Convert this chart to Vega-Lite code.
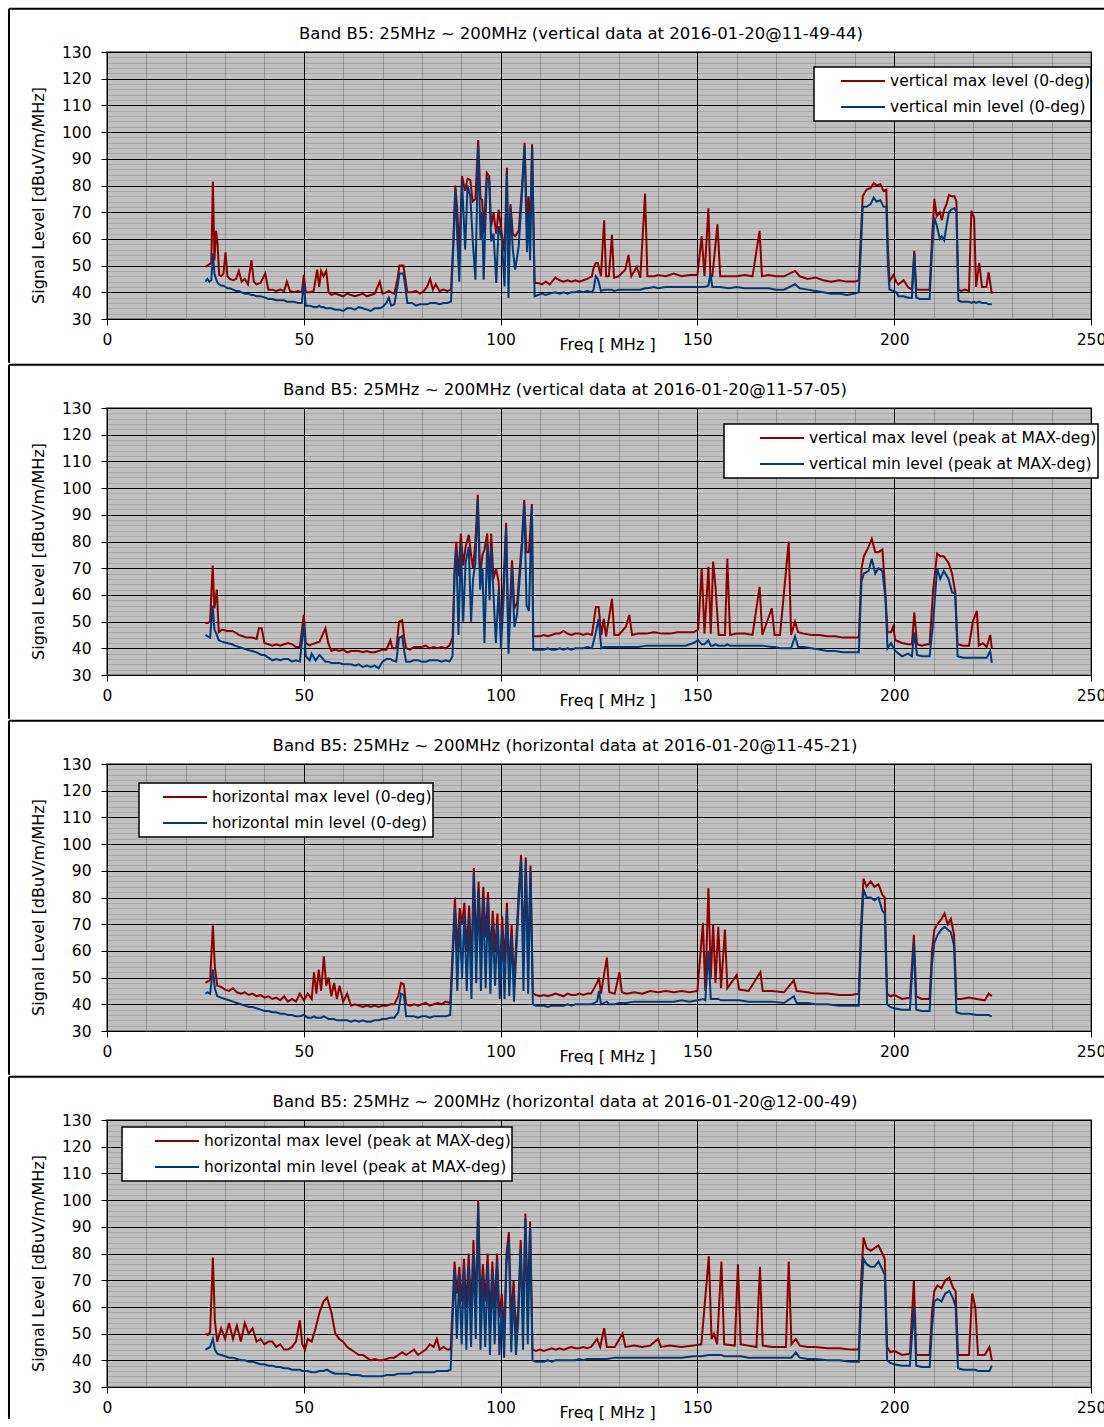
{
  "$schema": "https://vega.github.io/schema/vega-lite/v6.json",
  "padding": {"left": 6, "top": 6, "right": 0, "bottom": 0},
  "background": "white",
  "spacing": -3,
  "config": {
    "font": "DejaVu Sans",
    "view": {"fill": "#c0c0c0", "stroke": "#808080", "strokeWidth": 2},
    "concat": {"spacing": -3},
    "title": {"fontSize": 16.5, "fontWeight": "normal", "color": "black", "offset": 10, "dy": 45},
    "axis": {"labelColor": "black", "labelFontSize": 15.5, "titleFontSize": 16, "titleFontWeight": "normal", "titleColor": "black", "domainColor": "black", "tickColor": "black", "tickSize": 6, "labelOverlap": false, "labelFlush": false},
    "legend": {"orient": "none", "title": null, "symbolType": "stroke", "symbolSize": 1936, "symbolStrokeWidth": 2, "labelFontSize": 15.5, "labelLimit": 500, "labelColor": "black", "strokeColor": "black", "fillColor": "white", "padding": 1, "labelOffset": 4, "clipHeight": 26, "rowPadding": 0, "strokeWidth": 1.5}
  },
  "resolve": {"scale": {"color": "independent"}, "legend": {"color": "independent"}},
  "datasets": {
    "d": [
      {"p":1,"f":25.0,"max":49.5,"min":44},{"p":1,"f":25.5,"max":50,"min":45},{"p":1,"f":26.0,"max":50.5,"min":44},{"p":1,"f":26.5,"max":51,"min":44.5},{"p":1,"f":26.9,"max":81.5,"min":54.5},{"p":1,"f":27.3,"max":52,"min":47},{"p":1,"f":27.7,"max":63,"min":45},{"p":1,"f":28.1,"max":58,"min":43.5},{"p":1,"f":28.5,"max":46.5,"min":43},{"p":1,"f":29.0,"max":46,"min":42.5},{"p":1,"f":29.6,"max":47,"min":42.5},{"p":1,"f":30.1,"max":55,"min":42},{"p":1,"f":30.6,"max":46,"min":41.5},{"p":1,"f":31.2,"max":45,"min":41.5},{"p":1,"f":32.0,"max":44.5,"min":41},{"p":1,"f":32.8,"max":45,"min":40.5},{"p":1,"f":33.5,"max":48,"min":40.5},{"p":1,"f":34.2,"max":44,"min":40},{"p":1,"f":35.0,"max":45,"min":39.5},{"p":1,"f":35.8,"max":43,"min":39.5},{"p":1,"f":36.7,"max":52,"min":39},{"p":1,"f":37.3,"max":44,"min":39},{"p":1,"f":38.0,"max":43,"min":38.5},{"p":1,"f":39.0,"max":43.5,"min":38.5},{"p":1,"f":40.2,"max":47,"min":38},{"p":1,"f":41.0,"max":41,"min":37.5},{"p":1,"f":42.0,"max":41,"min":37.5},{"p":1,"f":43.0,"max":40.5,"min":37},{"p":1,"f":44.0,"max":41,"min":37},{"p":1,"f":45.0,"max":40.5,"min":37},{"p":1,"f":45.7,"max":44,"min":36.5},{"p":1,"f":46.5,"max":40.5,"min":36.5},{"p":1,"f":47.5,"max":40,"min":36.5},{"p":1,"f":48.5,"max":40.5,"min":36},{"p":1,"f":49.5,"max":40,"min":36},{"p":1,"f":50.0,"max":46.5,"min":43.5},{"p":1,"f":50.5,"max":40,"min":35},{"p":1,"f":51.5,"max":40,"min":35},{"p":1,"f":52.5,"max":40.5,"min":34.5},{"p":1,"f":53.4,"max":48.5,"min":34.5},{"p":1,"f":53.9,"max":42,"min":35},{"p":1,"f":54.4,"max":48,"min":34.5},{"p":1,"f":55.0,"max":46,"min":34.5},{"p":1,"f":55.7,"max":48,"min":34},{"p":1,"f":56.3,"max":40,"min":34},{"p":1,"f":57.0,"max":39,"min":34},{"p":1,"f":58.0,"max":39.5,"min":33.5},{"p":1,"f":59.0,"max":39,"min":33.5},{"p":1,"f":60.0,"max":38.5,"min":33},{"p":1,"f":61.0,"max":39.5,"min":34},{"p":1,"f":62.0,"max":39,"min":34},{"p":1,"f":63.0,"max":38.5,"min":33.5},{"p":1,"f":64.0,"max":39,"min":34.5},{"p":1,"f":65.0,"max":39.5,"min":34},{"p":1,"f":66.0,"max":38.5,"min":33.5},{"p":1,"f":67.0,"max":39,"min":33},{"p":1,"f":68.0,"max":39.5,"min":34},{"p":1,"f":69.3,"max":44,"min":34},{"p":1,"f":70.0,"max":39.5,"min":34.5},{"p":1,"f":71.0,"max":40,"min":36},{"p":1,"f":71.6,"max":40.5,"min":38},{"p":1,"f":72.2,"max":40,"min":35},{"p":1,"f":73.0,"max":39.5,"min":35.5},{"p":1,"f":73.8,"max":45,"min":42},{"p":1,"f":74.3,"max":50,"min":47},{"p":1,"f":75.3,"max":50,"min":47},{"p":1,"f":75.8,"max":45,"min":42},{"p":1,"f":76.3,"max":40,"min":36},{"p":1,"f":77.5,"max":40,"min":36},{"p":1,"f":78.5,"max":40.5,"min":35},{"p":1,"f":79.5,"max":39.5,"min":35.5},{"p":1,"f":80.5,"max":40.5,"min":35.5},{"p":1,"f":81.3,"max":42,"min":35.5},{"p":1,"f":82.1,"max":45,"min":36},{"p":1,"f":82.8,"max":41,"min":36},{"p":1,"f":83.5,"max":43,"min":36},{"p":1,"f":84.5,"max":40.5,"min":35.5},{"p":1,"f":85.5,"max":41,"min":36},{"p":1,"f":86.5,"max":40.5,"min":36},{"p":1,"f":87.4,"max":41,"min":36.5},{"p":1,"f":88.0,"max":60,"min":57},{"p":1,"f":88.5,"max":80,"min":78.5},{"p":1,"f":89.0,"max":71,"min":60},{"p":1,"f":89.5,"max":55,"min":44},{"p":1,"f":90.2,"max":83.5,"min":81.5},{"p":1,"f":91.0,"max":78,"min":56},{"p":1,"f":91.6,"max":82.5,"min":80},{"p":1,"f":92.3,"max":82,"min":76},{"p":1,"f":92.9,"max":74,"min":60},{"p":1,"f":93.6,"max":75,"min":44.7},{"p":1,"f":94.3,"max":97,"min":95},{"p":1,"f":94.9,"max":75,"min":59.7},{"p":1,"f":95.3,"max":74.7,"min":70},{"p":1,"f":95.7,"max":62,"min":44.7},{"p":1,"f":96.5,"max":84.7,"min":82.7},{"p":1,"f":97.1,"max":83.5,"min":82},{"p":1,"f":97.6,"max":64.7,"min":59},{"p":1,"f":98.2,"max":69.7,"min":62},{"p":1,"f":98.9,"max":62,"min":43.5},{"p":1,"f":99.5,"max":71,"min":64.7},{"p":1,"f":100.3,"max":62,"min":60},{"p":1,"f":101.0,"max":55,"min":42.2},{"p":1,"f":101.6,"max":86.6,"min":84.7},{"p":1,"f":102.0,"max":50,"min":37.9},{"p":1,"f":102.5,"max":73,"min":72.2},{"p":1,"f":103.1,"max":62,"min":56},{"p":1,"f":103.7,"max":61,"min":48.5},{"p":1,"f":104.6,"max":63,"min":57.2},{"p":1,"f":105.4,"max":78.5,"min":76},{"p":1,"f":106.1,"max":96,"min":94.7},{"p":1,"f":106.7,"max":65,"min":55},{"p":1,"f":107.1,"max":76,"min":70},{"p":1,"f":107.5,"max":62,"min":52},{"p":1,"f":108.0,"max":95.4,"min":94},{"p":1,"f":108.65,"max":43.5,"min":38.5},{"p":1,"f":109.5,"max":43.5,"min":39},{"p":1,"f":110.5,"max":43,"min":39.5},{"p":1,"f":111.5,"max":44,"min":39},{"p":1,"f":112.5,"max":43,"min":39.5},{"p":1,"f":113.9,"max":45.5,"min":40},{"p":1,"f":115,"max":44.5,"min":39.5},{"p":1,"f":116,"max":44,"min":40},{"p":1,"f":117,"max":44.5,"min":39.5},{"p":1,"f":118,"max":44,"min":40},{"p":1,"f":119,"max":44.5,"min":40},{"p":1,"f":120,"max":44,"min":40.5},{"p":1,"f":121,"max":44.5,"min":40},{"p":1,"f":122,"max":45,"min":40.5},{"p":1,"f":123.2,"max":46,"min":40},{"p":1,"f":123.6,"max":49,"min":41},{"p":1,"f":124.2,"max":51,"min":46},{"p":1,"f":124.7,"max":51,"min":45},{"p":1,"f":125.5,"max":46,"min":40.5},{"p":1,"f":126.3,"max":67,"min":41},{"p":1,"f":126.8,"max":46,"min":41},{"p":1,"f":127.5,"max":46,"min":41},{"p":1,"f":128.3,"max":61.5,"min":41},{"p":1,"f":128.8,"max":45.5,"min":40.5},{"p":1,"f":130,"max":46,"min":41},{"p":1,"f":131.7,"max":48.5,"min":41},{"p":1,"f":132.5,"max":54,"min":41},{"p":1,"f":133.2,"max":46,"min":41},{"p":1,"f":134.6,"max":49.5,"min":41},{"p":1,"f":135.5,"max":45.5,"min":41},{"p":1,"f":136.7,"max":77,"min":41.5},{"p":1,"f":137.3,"max":46,"min":41.5},{"p":1,"f":139,"max":46,"min":42},{"p":1,"f":140,"max":46.5,"min":41.5},{"p":1,"f":142,"max":46,"min":42},{"p":1,"f":144,"max":47,"min":42},{"p":1,"f":146,"max":46,"min":42},{"p":1,"f":148,"max":46.5,"min":42},{"p":1,"f":150,"max":46.5,"min":42},{"p":1,"f":151.1,"max":61,"min":42},{"p":1,"f":151.8,"max":46,"min":42},{"p":1,"f":152.8,"max":71.5,"min":42.5},{"p":1,"f":153.3,"max":46,"min":47},{"p":1,"f":153.8,"max":46,"min":42},{"p":1,"f":155.1,"max":65.5,"min":42},{"p":1,"f":155.8,"max":46,"min":42},{"p":1,"f":158,"max":46,"min":41.5},{"p":1,"f":160,"max":46,"min":42},{"p":1,"f":162,"max":46.5,"min":41.5},{"p":1,"f":164,"max":46,"min":41.5},{"p":1,"f":165.8,"max":63,"min":41.5},{"p":1,"f":166.4,"max":46,"min":41.5},{"p":1,"f":168,"max":46.5,"min":41.5},{"p":1,"f":170,"max":46,"min":41},{"p":1,"f":172,"max":46,"min":41},{"p":1,"f":174.8,"max":48,"min":43},{"p":1,"f":176,"max":46,"min":41.5},{"p":1,"f":178,"max":45,"min":41},{"p":1,"f":180,"max":45.5,"min":40.5},{"p":1,"f":182,"max":44.5,"min":40},{"p":1,"f":184,"max":44,"min":39.5},{"p":1,"f":186,"max":44.5,"min":39.5},{"p":1,"f":188,"max":44,"min":39},{"p":1,"f":190,"max":44,"min":39.5},{"p":1,"f":191.0,"max":44.5,"min":40},{"p":1,"f":191.5,"max":60,"min":55},{"p":1,"f":192.0,"max":76,"min":72},{"p":1,"f":193,"max":78.5,"min":72},{"p":1,"f":194,"max":79,"min":73},{"p":1,"f":194.8,"max":81,"min":75.5},{"p":1,"f":195.5,"max":80,"min":74},{"p":1,"f":196.5,"max":80.5,"min":74.5},{"p":1,"f":197.3,"max":78,"min":72},{"p":1,"f":198.0,"max":78.5,"min":72},{"p":1,"f":198.4,"max":57,"min":50},{"p":1,"f":198.8,"max":44,"min":41},{"p":1,"f":199.8,"max":46.5,"min":40.5},{"p":1,"f":200.5,"max":44,"min":40},{"p":1,"f":201.1,"max":43,"min":38.5},{"p":1,"f":202.4,"max":44.5,"min":38.5},{"p":1,"f":203.5,"max":42,"min":38},{"p":1,"f":204.5,"max":41,"min":38},{"p":1,"f":205.1,"max":55.5,"min":54.5},{"p":1,"f":205.6,"max":41,"min":38},{"p":1,"f":206.5,"max":41,"min":37.5},{"p":1,"f":208,"max":41,"min":37.5},{"p":1,"f":209.0,"max":41,"min":37.5},{"p":1,"f":209.6,"max":60,"min":55},{"p":1,"f":210.2,"max":75,"min":68},{"p":1,"f":210.8,"max":68.5,"min":65},{"p":1,"f":211.6,"max":70,"min":60},{"p":1,"f":212.1,"max":67,"min":61},{"p":1,"f":212.7,"max":71,"min":59.5},{"p":1,"f":213.3,"max":73,"min":65},{"p":1,"f":213.9,"max":76.5,"min":70},{"p":1,"f":214.5,"max":76,"min":71},{"p":1,"f":215.3,"max":76,"min":71.5},{"p":1,"f":215.8,"max":74,"min":70},{"p":1,"f":216.3,"max":41,"min":37},{"p":1,"f":217,"max":40.5,"min":36.5},{"p":1,"f":218,"max":41,"min":36.5},{"p":1,"f":219.0,"max":40.5,"min":36.5},{"p":1,"f":219.6,"max":70.5,"min":36},{"p":1,"f":220.3,"max":68,"min":36.5},{"p":1,"f":220.8,"max":42,"min":36},{"p":1,"f":221.6,"max":51,"min":36.5},{"p":1,"f":222.3,"max":42,"min":36},{"p":1,"f":223.4,"max":42,"min":36},{"p":1,"f":224.0,"max":47.5,"min":35.5},{"p":1,"f":224.8,"max":39.5,"min":35.5},

      {"p":2,"f":25.0,"max":49.5,"min":45},{"p":2,"f":25.6,"max":49.5,"min":44.5},{"p":2,"f":26.2,"max":50,"min":44},{"p":2,"f":26.85,"max":71,"min":56},{"p":2,"f":27.3,"max":55,"min":47},{"p":2,"f":27.9,"max":62,"min":45},{"p":2,"f":28.4,"max":46,"min":43},{"p":2,"f":29.2,"max":47,"min":42.5},{"p":2,"f":30.5,"max":46.5,"min":42},{"p":2,"f":31.8,"max":46.5,"min":41.5},{"p":2,"f":32.5,"max":46,"min":41},{"p":2,"f":33.5,"max":45,"min":40.5},{"p":2,"f":34.5,"max":44.5,"min":40},{"p":2,"f":35.5,"max":44,"min":39.5},{"p":2,"f":36.8,"max":44,"min":39},{"p":2,"f":38.0,"max":43.5,"min":38.5},{"p":2,"f":38.6,"max":47.5,"min":38},{"p":2,"f":39.3,"max":47.5,"min":37.5},{"p":2,"f":40.0,"max":42,"min":37.5},{"p":2,"f":41.0,"max":41.5,"min":36.5},{"p":2,"f":42.0,"max":41,"min":35.5},{"p":2,"f":43.0,"max":41.5,"min":36},{"p":2,"f":44.0,"max":41,"min":35.5},{"p":2,"f":45.0,"max":41.5,"min":36},{"p":2,"f":46.0,"max":42,"min":36},{"p":2,"f":47.0,"max":41.5,"min":35},{"p":2,"f":48.0,"max":40.5,"min":35.5},{"p":2,"f":49.0,"max":40.5,"min":35},{"p":2,"f":50.0,"max":52.5,"min":49.5},{"p":2,"f":50.5,"max":42,"min":37},{"p":2,"f":51.5,"max":41,"min":35.5},{"p":2,"f":52.0,"max":41.5,"min":38},{"p":2,"f":53.0,"max":42,"min":35.5},{"p":2,"f":54.0,"max":42.5,"min":37.5},{"p":2,"f":55.5,"max":47.5,"min":35},{"p":2,"f":56.2,"max":42,"min":35},{"p":2,"f":57.0,"max":39,"min":34.5},{"p":2,"f":58.0,"max":39.5,"min":34.5},{"p":2,"f":59.0,"max":39,"min":34.5},{"p":2,"f":60.0,"max":39.5,"min":34},{"p":2,"f":61.0,"max":38.5,"min":34},{"p":2,"f":62.0,"max":39,"min":34},{"p":2,"f":63.0,"max":39,"min":33.5},{"p":2,"f":64.0,"max":39,"min":34},{"p":2,"f":65.0,"max":38.5,"min":33},{"p":2,"f":66.0,"max":39,"min":33.5},{"p":2,"f":67.0,"max":38.5,"min":33},{"p":2,"f":68.0,"max":38.5,"min":33.5},{"p":2,"f":69.0,"max":39,"min":32.5},{"p":2,"f":70.0,"max":39.5,"min":35},{"p":2,"f":71.0,"max":39.5,"min":36},{"p":2,"f":72.0,"max":43,"min":36},{"p":2,"f":72.5,"max":40,"min":35.5},{"p":2,"f":73.5,"max":40,"min":35},{"p":2,"f":74.2,"max":50,"min":44},{"p":2,"f":75.0,"max":50.5,"min":44.5},{"p":2,"f":75.5,"max":44,"min":39},{"p":2,"f":76.0,"max":40,"min":35},{"p":2,"f":77.0,"max":39.5,"min":35},{"p":2,"f":78.0,"max":40.5,"min":35.5},{"p":2,"f":79.0,"max":40.5,"min":35.5},{"p":2,"f":80.0,"max":40.5,"min":35},{"p":2,"f":81.0,"max":41,"min":35},{"p":2,"f":82.0,"max":40,"min":35.5},{"p":2,"f":83.0,"max":40.5,"min":35.5},{"p":2,"f":84.0,"max":40,"min":35.5},{"p":2,"f":85.0,"max":40.5,"min":35},{"p":2,"f":86.0,"max":40,"min":35.5},{"p":2,"f":87.0,"max":41,"min":35},{"p":2,"f":87.8,"max":44,"min":37},{"p":2,"f":88.3,"max":70,"min":67},{"p":2,"f":88.75,"max":80,"min":77},{"p":2,"f":89.3,"max":67,"min":45},{"p":2,"f":89.9,"max":83,"min":79},{"p":2,"f":90.5,"max":71,"min":50},{"p":2,"f":91.1,"max":78,"min":72},{"p":2,"f":91.9,"max":82.5,"min":78},{"p":2,"f":92.5,"max":75,"min":50},{"p":2,"f":93.0,"max":70,"min":66},{"p":2,"f":93.6,"max":80,"min":72},{"p":2,"f":94.2,"max":97.5,"min":95.5},{"p":2,"f":94.8,"max":67,"min":62},{"p":2,"f":95.4,"max":75,"min":70},{"p":2,"f":95.9,"max":77,"min":42},{"p":2,"f":96.6,"max":83,"min":79},{"p":2,"f":97.2,"max":63,"min":58},{"p":2,"f":97.6,"max":83,"min":78},{"p":2,"f":98.2,"max":66,"min":60},{"p":2,"f":98.8,"max":70,"min":42},{"p":2,"f":99.5,"max":65,"min":62},{"p":2,"f":100.1,"max":46,"min":40},{"p":2,"f":100.8,"max":66,"min":60},{"p":2,"f":101.4,"max":87,"min":85},{"p":2,"f":102.0,"max":43,"min":38},{"p":2,"f":102.9,"max":73,"min":70},{"p":2,"f":103.5,"max":55,"min":48},{"p":2,"f":104.2,"max":57,"min":53},{"p":2,"f":105.4,"max":80,"min":77},{"p":2,"f":106.0,"max":95.5,"min":94},{"p":2,"f":106.6,"max":76,"min":56},{"p":2,"f":107.2,"max":76,"min":54},{"p":2,"f":107.95,"max":94,"min":93},{"p":2,"f":108.3,"max":44.5,"min":39.5},{"p":2,"f":108.9,"max":44.5,"min":39.5},{"p":2,"f":110,"max":44.5,"min":39.5},{"p":2,"f":111,"max":45,"min":39.5},{"p":2,"f":112,"max":44.5,"min":40},{"p":2,"f":113,"max":45,"min":39.5},{"p":2,"f":114,"max":45.5,"min":39.5},{"p":2,"f":115,"max":45.5,"min":40},{"p":2,"f":116,"max":46.5,"min":39.5},{"p":2,"f":117,"max":45.5,"min":40},{"p":2,"f":118,"max":45,"min":39.5},{"p":2,"f":119,"max":45.5,"min":40},{"p":2,"f":120,"max":45.5,"min":40},{"p":2,"f":121,"max":45,"min":40},{"p":2,"f":122,"max":45.5,"min":40.5},{"p":2,"f":123.2,"max":45,"min":40},{"p":2,"f":124.2,"max":55.5,"min":46},{"p":2,"f":124.9,"max":55.5,"min":51},{"p":2,"f":125.6,"max":45,"min":40},{"p":2,"f":126.2,"max":51,"min":40.5},{"p":2,"f":126.8,"max":44.5,"min":40.5},{"p":2,"f":128.3,"max":58.5,"min":40.5},{"p":2,"f":128.9,"max":45,"min":40.5},{"p":2,"f":130,"max":45,"min":40.5},{"p":2,"f":131.8,"max":48,"min":40.5},{"p":2,"f":132.7,"max":52.5,"min":40.5},{"p":2,"f":133.4,"max":45,"min":40.5},{"p":2,"f":135,"max":45.5,"min":40.5},{"p":2,"f":137,"max":45.5,"min":41},{"p":2,"f":139,"max":46,"min":41},{"p":2,"f":141,"max":45.5,"min":41},{"p":2,"f":143,"max":45.5,"min":41},{"p":2,"f":145,"max":46,"min":41},{"p":2,"f":147,"max":46,"min":41},{"p":2,"f":149,"max":46,"min":42},{"p":2,"f":150.2,"max":47,"min":43},{"p":2,"f":151.1,"max":70,"min":41.5},{"p":2,"f":151.8,"max":45.5,"min":41.5},{"p":2,"f":152.8,"max":70.5,"min":43},{"p":2,"f":153.4,"max":45.5,"min":41},{"p":2,"f":154.0,"max":72.5,"min":41},{"p":2,"f":154.6,"max":63,"min":41.5},{"p":2,"f":155.4,"max":45,"min":41},{"p":2,"f":157.0,"max":45,"min":41},{"p":2,"f":157.6,"max":73.5,"min":41.5},{"p":2,"f":158.3,"max":45,"min":41},{"p":2,"f":160,"max":45.5,"min":41},{"p":2,"f":162,"max":45.5,"min":41},{"p":2,"f":164,"max":45,"min":41},{"p":2,"f":165.8,"max":63,"min":41},{"p":2,"f":166.5,"max":45,"min":41},{"p":2,"f":168.9,"max":55,"min":40.5},{"p":2,"f":169.6,"max":45,"min":40.5},{"p":2,"f":171,"max":45,"min":40},{"p":2,"f":173.2,"max":80,"min":40},{"p":2,"f":173.8,"max":45,"min":40},{"p":2,"f":174.8,"max":50,"min":44.5},{"p":2,"f":175.6,"max":46,"min":40.5},{"p":2,"f":177,"max":45.5,"min":40.5},{"p":2,"f":179,"max":45,"min":40},{"p":2,"f":181,"max":45,"min":39.5},{"p":2,"f":183,"max":44.5,"min":39},{"p":2,"f":185,"max":44.5,"min":39},{"p":2,"f":187,"max":44,"min":38.5},{"p":2,"f":189,"max":44,"min":38.5},{"p":2,"f":191.0,"max":44,"min":38.5},{"p":2,"f":191.7,"max":70,"min":65},{"p":2,"f":192.3,"max":74.5,"min":68},{"p":2,"f":193.5,"max":78,"min":69},{"p":2,"f":194.3,"max":81,"min":73.5},{"p":2,"f":195.2,"max":76,"min":68},{"p":2,"f":196.0,"max":76,"min":70},{"p":2,"f":197.0,"max":77,"min":69},{"p":2,"f":197.8,"max":60,"min":58},{"p":2,"f":198.3,"max":46,"min":40},{"p":2,"f":199.2,"max":46,"min":42},{"p":2,"f":199.7,"max":48,"min":40.5},{"p":2,"f":200.3,"max":43,"min":39},{"p":2,"f":202,"max":42,"min":37},{"p":2,"f":203.5,"max":41.5,"min":38},{"p":2,"f":204.5,"max":41.5,"min":37},{"p":2,"f":205.1,"max":53.5,"min":46},{"p":2,"f":205.8,"max":41.5,"min":37.5},{"p":2,"f":207,"max":41,"min":37},{"p":2,"f":208.5,"max":41.5,"min":37},{"p":2,"f":209.0,"max":41.5,"min":37},{"p":2,"f":209.9,"max":62,"min":50},{"p":2,"f":210.9,"max":75.5,"min":70},{"p":2,"f":211.7,"max":74.5,"min":66},{"p":2,"f":212.6,"max":74.5,"min":69},{"p":2,"f":213.8,"max":72,"min":66},{"p":2,"f":214.7,"max":68,"min":61},{"p":2,"f":215.5,"max":61,"min":60.5},{"p":2,"f":216.1,"max":41.5,"min":37},{"p":2,"f":217.5,"max":41,"min":36.5},{"p":2,"f":219,"max":41,"min":36.5},{"p":2,"f":220.0,"max":50,"min":36.5},{"p":2,"f":221.0,"max":54,"min":36.5},{"p":2,"f":221.5,"max":41,"min":36.5},{"p":2,"f":222.5,"max":42,"min":36.5},{"p":2,"f":223.5,"max":40.5,"min":36.5},{"p":2,"f":224.4,"max":45,"min":39},{"p":2,"f":224.8,"max":40,"min":34.5},

      {"p":3,"f":25,"max":48,"min":44},{"p":3,"f":25.5,"max":48.5,"min":44.5},{"p":3,"f":26.2,"max":49,"min":44},{"p":3,"f":26.9,"max":69.5,"min":53},{"p":3,"f":27.4,"max":54,"min":46},{"p":3,"f":28,"max":47,"min":43},{"p":3,"f":29,"max":46.5,"min":42.5},{"p":3,"f":30,"max":45.5,"min":42},{"p":3,"f":31,"max":45,"min":41.5},{"p":3,"f":32,"max":46,"min":41},{"p":3,"f":33,"max":44.5,"min":40.5},{"p":3,"f":34,"max":44,"min":40},{"p":3,"f":35,"max":44.5,"min":39.5},{"p":3,"f":36,"max":43.5,"min":39},{"p":3,"f":37,"max":44,"min":39},{"p":3,"f":38,"max":43,"min":38.5},{"p":3,"f":39,"max":43.5,"min":38},{"p":3,"f":40,"max":42.5,"min":37.5},{"p":3,"f":41,"max":43,"min":37.5},{"p":3,"f":42,"max":42,"min":37},{"p":3,"f":43,"max":42.5,"min":37},{"p":3,"f":44,"max":41.5,"min":36.5},{"p":3,"f":45,"max":43,"min":36.5},{"p":3,"f":46,"max":41,"min":36},{"p":3,"f":47,"max":42,"min":36},{"p":3,"f":48,"max":41,"min":35.5},{"p":3,"f":49,"max":44,"min":35.5},{"p":3,"f":50,"max":41.5,"min":36},{"p":3,"f":51,"max":44,"min":35},{"p":3,"f":52,"max":42,"min":35},{"p":3,"f":52.6,"max":52,"min":35.5},{"p":3,"f":53.2,"max":44,"min":35},{"p":3,"f":53.8,"max":53,"min":35},{"p":3,"f":54.4,"max":45,"min":35},{"p":3,"f":55.1,"max":58,"min":35.5},{"p":3,"f":55.7,"max":47,"min":35},{"p":3,"f":56.3,"max":50,"min":34.5},{"p":3,"f":57,"max":43,"min":34.5},{"p":3,"f":57.7,"max":48,"min":34.5},{"p":3,"f":58.4,"max":42,"min":34},{"p":3,"f":59.1,"max":47,"min":34},{"p":3,"f":60,"max":41,"min":34},{"p":3,"f":61,"max":44,"min":34},{"p":3,"f":62,"max":39.5,"min":33.5},{"p":3,"f":63,"max":40,"min":34},{"p":3,"f":64,"max":39.5,"min":33.5},{"p":3,"f":65,"max":39,"min":34},{"p":3,"f":66,"max":39.5,"min":33.5},{"p":3,"f":67,"max":39,"min":33.5},{"p":3,"f":68,"max":39.5,"min":34},{"p":3,"f":69,"max":39,"min":34},{"p":3,"f":70,"max":39.5,"min":34.5},{"p":3,"f":71,"max":39.5,"min":34.5},{"p":3,"f":72,"max":40,"min":35},{"p":3,"f":73,"max":40,"min":35},{"p":3,"f":74,"max":43,"min":37},{"p":3,"f":74.7,"max":48,"min":44},{"p":3,"f":75.4,"max":47.5,"min":43.5},{"p":3,"f":76,"max":40,"min":35.5},{"p":3,"f":77,"max":39.5,"min":35.5},{"p":3,"f":78,"max":40,"min":35.5},{"p":3,"f":79,"max":39.5,"min":35},{"p":3,"f":80,"max":40,"min":35.5},{"p":3,"f":81,"max":40.5,"min":35.5},{"p":3,"f":82,"max":39.5,"min":35},{"p":3,"f":83,"max":40,"min":35.5},{"p":3,"f":84,"max":40.5,"min":35.5},{"p":3,"f":85,"max":40,"min":35.5},{"p":3,"f":86,"max":41,"min":35.5},{"p":3,"f":87.2,"max":40.5,"min":36},{"p":3,"f":87.8,"max":60,"min":55},{"p":3,"f":88.4,"max":80,"min":76},{"p":3,"f":89,"max":60,"min":45},{"p":3,"f":89.6,"max":76,"min":72},{"p":3,"f":90.2,"max":70,"min":50},{"p":3,"f":90.8,"max":78,"min":74},{"p":3,"f":91.4,"max":60,"min":45},{"p":3,"f":92,"max":77,"min":72},{"p":3,"f":92.6,"max":55,"min":42},{"p":3,"f":93.2,"max":91,"min":89},{"p":3,"f":93.8,"max":60,"min":48},{"p":3,"f":94.4,"max":86,"min":83},{"p":3,"f":95,"max":62,"min":45},{"p":3,"f":95.6,"max":84,"min":80},{"p":3,"f":96.2,"max":65,"min":46},{"p":3,"f":96.8,"max":82,"min":79},{"p":3,"f":97.4,"max":58,"min":44},{"p":3,"f":98,"max":75,"min":70},{"p":3,"f":98.6,"max":60,"min":47},{"p":3,"f":99.2,"max":74,"min":70},{"p":3,"f":99.8,"max":50,"min":42},{"p":3,"f":100.4,"max":73,"min":68},{"p":3,"f":101,"max":55,"min":42},{"p":3,"f":101.6,"max":78,"min":75},{"p":3,"f":102.2,"max":52,"min":43},{"p":3,"f":102.8,"max":70,"min":66},{"p":3,"f":103.4,"max":48,"min":41},{"p":3,"f":104,"max":65,"min":60},{"p":3,"f":104.6,"max":82,"min":78},{"p":3,"f":105.2,"max":96,"min":94},{"p":3,"f":105.8,"max":60,"min":45},{"p":3,"f":106.4,"max":95,"min":93},{"p":3,"f":107,"max":55,"min":44},{"p":3,"f":107.6,"max":92,"min":90},{"p":3,"f":108.2,"max":44,"min":40},{"p":3,"f":109,"max":43.5,"min":39.5},{"p":3,"f":110,"max":43,"min":39.5},{"p":3,"f":111,"max":43.5,"min":39.5},{"p":3,"f":112,"max":43,"min":39},{"p":3,"f":113,"max":43.5,"min":39.5},{"p":3,"f":114,"max":44,"min":39.5},{"p":3,"f":115,"max":43.5,"min":39.5},{"p":3,"f":116,"max":43,"min":39.5},{"p":3,"f":117,"max":44,"min":40},{"p":3,"f":118,"max":43.5,"min":39.5},{"p":3,"f":119,"max":43.5,"min":40},{"p":3,"f":120,"max":44,"min":40},{"p":3,"f":121,"max":43.5,"min":40},{"p":3,"f":122,"max":44,"min":40},{"p":3,"f":123,"max":44,"min":40},{"p":3,"f":124.5,"max":48,"min":41},{"p":3,"f":125,"max":50,"min":45},{"p":3,"f":125.5,"max":44,"min":40},{"p":3,"f":127,"max":57.5,"min":41},{"p":3,"f":127.6,"max":44.5,"min":40},{"p":3,"f":129,"max":44,"min":40},{"p":3,"f":130.2,"max":52,"min":40.5},{"p":3,"f":130.8,"max":44.5,"min":40.5},{"p":3,"f":132,"max":44,"min":40.5},{"p":3,"f":134,"max":44.5,"min":41},{"p":3,"f":136,"max":44,"min":41},{"p":3,"f":138,"max":45,"min":41},{"p":3,"f":140,"max":44.5,"min":41},{"p":3,"f":142,"max":45,"min":41},{"p":3,"f":144,"max":44.5,"min":41},{"p":3,"f":146,"max":45,"min":41.5},{"p":3,"f":148,"max":44.5,"min":41},{"p":3,"f":150,"max":45,"min":41.5},{"p":3,"f":151.4,"max":70.5,"min":42},{"p":3,"f":152,"max":45,"min":41.5},{"p":3,"f":152.8,"max":83.5,"min":60},{"p":3,"f":153.4,"max":50,"min":42},{"p":3,"f":154,"max":70,"min":42},{"p":3,"f":154.6,"max":48,"min":42},{"p":3,"f":155.3,"max":69,"min":42},{"p":3,"f":156,"max":46,"min":41.5},{"p":3,"f":157,"max":68,"min":41.5},{"p":3,"f":157.6,"max":46,"min":41.5},{"p":3,"f":160,"max":51,"min":41.5},{"p":3,"f":160.6,"max":45.5,"min":41.5},{"p":3,"f":163,"max":45,"min":41},{"p":3,"f":166,"max":52,"min":41},{"p":3,"f":166.6,"max":45,"min":41},{"p":3,"f":169,"max":45,"min":41},{"p":3,"f":172,"max":44.5,"min":40.5},{"p":3,"f":174.5,"max":49,"min":43},{"p":3,"f":175.2,"max":45,"min":40.5},{"p":3,"f":178,"max":44.5,"min":40.5},{"p":3,"f":180,"max":44,"min":40},{"p":3,"f":183,"max":44,"min":40},{"p":3,"f":186,"max":43.5,"min":39.5},{"p":3,"f":189,"max":43.5,"min":39.5},{"p":3,"f":191,"max":44,"min":39.5},{"p":3,"f":191.6,"max":70,"min":65},{"p":3,"f":192.2,"max":87,"min":83},{"p":3,"f":193,"max":84,"min":80},{"p":3,"f":194,"max":86,"min":80},{"p":3,"f":195,"max":84,"min":79},{"p":3,"f":196,"max":85,"min":80},{"p":3,"f":197,"max":81,"min":75},{"p":3,"f":197.6,"max":80,"min":74},{"p":3,"f":198.2,"max":44,"min":40},{"p":3,"f":199,"max":43,"min":39},{"p":3,"f":200,"max":43.5,"min":38.5},{"p":3,"f":202,"max":42,"min":38},{"p":3,"f":204,"max":42.5,"min":38},{"p":3,"f":205,"max":66,"min":63},{"p":3,"f":205.6,"max":43,"min":38},{"p":3,"f":207,"max":42,"min":37.5},{"p":3,"f":209,"max":42,"min":37.5},{"p":3,"f":209.6,"max":60,"min":55},{"p":3,"f":210.2,"max":68,"min":63},{"p":3,"f":211,"max":70,"min":66},{"p":3,"f":212,"max":72,"min":68},{"p":3,"f":212.8,"max":74,"min":69},{"p":3,"f":213.6,"max":70,"min":68},{"p":3,"f":214.4,"max":72,"min":67},{"p":3,"f":215.2,"max":66,"min":62},{"p":3,"f":215.8,"max":42,"min":37},{"p":3,"f":217,"max":42,"min":36.5},{"p":3,"f":219,"max":42.5,"min":36.5},{"p":3,"f":221,"max":42,"min":36},{"p":3,"f":223,"max":41.5,"min":36},{"p":3,"f":224,"max":44,"min":36},{"p":3,"f":224.8,"max":43,"min":35.5},

      {"p":4,"f":25,"max":50,"min":44},{"p":4,"f":25.6,"max":49.5,"min":44.5},{"p":4,"f":26.2,"max":50.5,"min":45},{"p":4,"f":26.9,"max":78.5,"min":48},{"p":4,"f":27.4,"max":55,"min":44},{"p":4,"f":28,"max":47,"min":42.5},{"p":4,"f":29,"max":52,"min":42},{"p":4,"f":30,"max":48,"min":41.5},{"p":4,"f":31,"max":54,"min":41},{"p":4,"f":32,"max":48,"min":41},{"p":4,"f":33,"max":53,"min":40.5},{"p":4,"f":34,"max":47,"min":40},{"p":4,"f":35,"max":54,"min":40},{"p":4,"f":36,"max":50,"min":39.5},{"p":4,"f":37,"max":52,"min":39.5},{"p":4,"f":38,"max":47,"min":39},{"p":4,"f":39,"max":48,"min":38.5},{"p":4,"f":40,"max":46,"min":38.5},{"p":4,"f":41,"max":47,"min":38},{"p":4,"f":42,"max":47,"min":38},{"p":4,"f":43,"max":45,"min":37.5},{"p":4,"f":44,"max":46,"min":37.5},{"p":4,"f":45,"max":44,"min":37},{"p":4,"f":46,"max":44,"min":37},{"p":4,"f":47,"max":45,"min":36.5},{"p":4,"f":48,"max":47,"min":36.5},{"p":4,"f":49,"max":55,"min":36.5},{"p":4,"f":49.6,"max":46,"min":36},{"p":4,"f":50.3,"max":44,"min":36},{"p":4,"f":51,"max":48,"min":36},{"p":4,"f":52,"max":47,"min":35.5},{"p":4,"f":53,"max":52,"min":35.5},{"p":4,"f":54,"max":58,"min":36},{"p":4,"f":55,"max":62,"min":36},{"p":4,"f":55.9,"max":63.5,"min":36.5},{"p":4,"f":57,"max":58,"min":35.5},{"p":4,"f":58,"max":50,"min":35},{"p":4,"f":59,"max":48,"min":35},{"p":4,"f":60,"max":47,"min":35},{"p":4,"f":61,"max":45,"min":35},{"p":4,"f":62,"max":44,"min":34.5},{"p":4,"f":63,"max":43,"min":34.5},{"p":4,"f":64,"max":42,"min":34.5},{"p":4,"f":65,"max":42,"min":34},{"p":4,"f":66,"max":41,"min":34},{"p":4,"f":67,"max":40,"min":34},{"p":4,"f":68,"max":40.5,"min":34},{"p":4,"f":69,"max":40,"min":34},{"p":4,"f":70,"max":40,"min":34},{"p":4,"f":71,"max":40.5,"min":34.5},{"p":4,"f":72,"max":41,"min":34.5},{"p":4,"f":73,"max":41,"min":34.5},{"p":4,"f":74,"max":42,"min":35},{"p":4,"f":75,"max":43,"min":35},{"p":4,"f":76,"max":42,"min":35},{"p":4,"f":77,"max":43,"min":35},{"p":4,"f":78,"max":44,"min":35.5},{"p":4,"f":79,"max":42,"min":35.5},{"p":4,"f":80,"max":43,"min":35.5},{"p":4,"f":81,"max":44,"min":35.5},{"p":4,"f":82,"max":46,"min":35.5},{"p":4,"f":83,"max":45,"min":35.5},{"p":4,"f":83.8,"max":48,"min":36},{"p":4,"f":84.5,"max":44,"min":36},{"p":4,"f":85.5,"max":45,"min":36},{"p":4,"f":86.5,"max":44,"min":36},{"p":4,"f":87.3,"max":44,"min":36.5},{"p":4,"f":87.8,"max":60,"min":55},{"p":4,"f":88.3,"max":77,"min":74},{"p":4,"f":88.9,"max":65,"min":48},{"p":4,"f":89.5,"max":75,"min":72},{"p":4,"f":90.1,"max":62,"min":46},{"p":4,"f":90.7,"max":78,"min":75},{"p":4,"f":91.3,"max":60,"min":44},{"p":4,"f":91.9,"max":80,"min":76},{"p":4,"f":92.5,"max":58,"min":45},{"p":4,"f":93.1,"max":85,"min":80},{"p":4,"f":93.7,"max":60,"min":48},{"p":4,"f":94.3,"max":100,"min":98},{"p":4,"f":94.9,"max":60,"min":44},{"p":4,"f":95.5,"max":76,"min":72},{"p":4,"f":96.1,"max":62,"min":45},{"p":4,"f":96.7,"max":80,"min":76},{"p":4,"f":97.3,"max":55,"min":42},{"p":4,"f":97.9,"max":77,"min":73},{"p":4,"f":98.5,"max":60,"min":46},{"p":4,"f":99.1,"max":80,"min":77},{"p":4,"f":99.7,"max":56,"min":42},{"p":4,"f":100.3,"max":65,"min":60},{"p":4,"f":100.9,"max":50,"min":41},{"p":4,"f":101.5,"max":80,"min":76},{"p":4,"f":102.1,"max":88,"min":85},{"p":4,"f":102.7,"max":55,"min":43},{"p":4,"f":103.3,"max":70,"min":65},{"p":4,"f":103.9,"max":50,"min":42},{"p":4,"f":104.5,"max":60,"min":55},{"p":4,"f":105.1,"max":85,"min":82},{"p":4,"f":105.7,"max":55,"min":44},{"p":4,"f":106.3,"max":95,"min":93},{"p":4,"f":106.9,"max":60,"min":46},{"p":4,"f":107.5,"max":92,"min":90},{"p":4,"f":108.1,"max":44,"min":40},{"p":4,"f":109,"max":43.5,"min":39.5},{"p":4,"f":110,"max":44,"min":39.5},{"p":4,"f":111,"max":43.5,"min":39.5},{"p":4,"f":112,"max":44,"min":40},{"p":4,"f":113,"max":44.5,"min":39.5},{"p":4,"f":114,"max":44,"min":40},{"p":4,"f":115,"max":44.5,"min":40},{"p":4,"f":116,"max":44,"min":40},{"p":4,"f":117,"max":44.5,"min":40},{"p":4,"f":118,"max":45,"min":40},{"p":4,"f":119,"max":44.5,"min":40},{"p":4,"f":120,"max":44.5,"min":40.5},{"p":4,"f":121,"max":45,"min":40},{"p":4,"f":122,"max":44.5,"min":40.5},{"p":4,"f":123,"max":45,"min":40.5},{"p":4,"f":124.5,"max":48,"min":40.5},{"p":4,"f":125.3,"max":45,"min":40.5},{"p":4,"f":126.3,"max":52,"min":40.5},{"p":4,"f":127,"max":45,"min":40.5},{"p":4,"f":129,"max":45,"min":41},{"p":4,"f":131,"max":50,"min":41},{"p":4,"f":131.7,"max":45,"min":41},{"p":4,"f":134,"max":45.5,"min":41},{"p":4,"f":136,"max":45,"min":41},{"p":4,"f":138,"max":45.5,"min":41},{"p":4,"f":140,"max":48,"min":41},{"p":4,"f":140.7,"max":45,"min":41},{"p":4,"f":143,"max":45.5,"min":41},{"p":4,"f":146,"max":45,"min":41},{"p":4,"f":149,"max":45.5,"min":41.5},{"p":4,"f":151,"max":46,"min":41.5},{"p":4,"f":152.9,"max":79,"min":42},{"p":4,"f":153.6,"max":48,"min":42},{"p":4,"f":154.2,"max":50,"min":42},{"p":4,"f":155,"max":46,"min":42},{"p":4,"f":156.1,"max":77,"min":42},{"p":4,"f":156.8,"max":46,"min":41.5},{"p":4,"f":159.5,"max":45.5,"min":41.5},{"p":4,"f":160.3,"max":76,"min":41.5},{"p":4,"f":161,"max":46,"min":41.5},{"p":4,"f":163,"max":45.5,"min":41},{"p":4,"f":165,"max":45,"min":41},{"p":4,"f":165.9,"max":75,"min":41},{"p":4,"f":166.6,"max":45.5,"min":41},{"p":4,"f":169,"max":45,"min":41},{"p":4,"f":172.5,"max":45,"min":41},{"p":4,"f":173.2,"max":77,"min":41},{"p":4,"f":173.9,"max":46,"min":41},{"p":4,"f":175,"max":48,"min":43},{"p":4,"f":176,"max":45.5,"min":41},{"p":4,"f":178,"max":45,"min":40.5},{"p":4,"f":180,"max":45,"min":40.5},{"p":4,"f":183,"max":44.5,"min":40},{"p":4,"f":186,"max":44.5,"min":40},{"p":4,"f":189,"max":44,"min":39.5},{"p":4,"f":191,"max":44,"min":39.5},{"p":4,"f":191.6,"max":70,"min":62},{"p":4,"f":192.2,"max":86,"min":78},{"p":4,"f":193,"max":82,"min":76},{"p":4,"f":194,"max":81,"min":75},{"p":4,"f":195,"max":82,"min":75},{"p":4,"f":196,"max":83,"min":77},{"p":4,"f":197,"max":80,"min":74},{"p":4,"f":197.6,"max":78,"min":72},{"p":4,"f":198.2,"max":45,"min":40},{"p":4,"f":199,"max":43,"min":39},{"p":4,"f":200,"max":43.5,"min":38.5},{"p":4,"f":202,"max":42,"min":38},{"p":4,"f":204,"max":42.5,"min":38},{"p":4,"f":205,"max":70,"min":60},{"p":4,"f":205.6,"max":42,"min":38},{"p":4,"f":207,"max":42,"min":37.5},{"p":4,"f":209,"max":42,"min":37.5},{"p":4,"f":209.6,"max":58,"min":52},{"p":4,"f":210.2,"max":66,"min":62},{"p":4,"f":211,"max":68,"min":63},{"p":4,"f":212,"max":67,"min":62},{"p":4,"f":213,"max":70,"min":65},{"p":4,"f":214,"max":71,"min":66},{"p":4,"f":215,"max":67,"min":63},{"p":4,"f":215.6,"max":66,"min":60},{"p":4,"f":216.2,"max":42,"min":37},{"p":4,"f":217.5,"max":42,"min":36.5},{"p":4,"f":219,"max":42,"min":36.5},{"p":4,"f":219.8,"max":65,"min":36.5},{"p":4,"f":220.6,"max":60,"min":36.5},{"p":4,"f":221.3,"max":42,"min":36},{"p":4,"f":223,"max":42,"min":36},{"p":4,"f":224.2,"max":45,"min":36},{"p":4,"f":224.8,"max":40,"min":38}
    ]
  },
  "vconcat": [
    {
      "width": 984, "height": 267,
      "title": {"text": "Band B5: 25MHz ~ 200MHz  (vertical data at 2016-01-20@11-49-44)", "dx": -18},
      "layer": [
        {
          "data": {"name": "d"},
          "transform": [{"filter": "datum.p == 1"}, {"fold": ["max", "min"], "as": ["s", "v"]}],
          "mark": {"type": "line", "strokeWidth": 2},
          "encoding": {
            "x": {"field": "f", "type": "quantitative", "title": "Freq [ MHz ]", "scale": {"domain": [0, 250], "nice": false, "zero": false},
              "axis": {"values": [0,10,20,30,40,50,60,70,80,90,100,110,120,130,140,150,160,170,180,190,200,210,220,230,240,250], "tickCount": 100, "labelExpr": "datum.value % 50 === 0 ? datum.label : ''", "gridColor": {"condition": {"test": "datum.value % 50 === 0", "value": "#000000"}, "value": "#969696"}, "tickOpacity": {"condition": {"test": "datum.value % 50 === 0", "value": 1}, "value": 0}, "labelPadding": 7, "titleX": 500, "titleY": 17, "titleBaseline": "top"}},
            "y": {"field": "v", "type": "quantitative", "title": "Signal Level [dBuV/m/MHz]", "scale": {"domain": [30, 130], "nice": false, "zero": false},
              "axis": {"values": [30,32,34,36,38,40,42,44,46,48,50,52,54,56,58,60,62,64,66,68,70,72,74,76,78,80,82,84,86,88,90,92,94,96,98,100,102,104,106,108,110,112,114,116,118,120,122,124,126,128,130], "tickCount": 100, "labelExpr": "datum.value % 10 === 0 ? datum.label : ''", "gridColor": "#000000", "gridOpacity": {"condition": {"test": "datum.value % 10 === 0", "value": 1}, "value": 0.12}, "tickOpacity": {"condition": {"test": "datum.value % 10 === 0", "value": 1}, "value": 0}, "labelPadding": 10, "titlePadding": 15, "titleY": 143}},
            "color": {"field": "s", "type": "nominal", "scale": {"domain": ["max", "min"], "range": ["#8e0000", "#003b78"]},
              "legend": {"legendX": 707, "legendY": 15, "symbolOffset": 25, "labelExpr": "datum.value == 'max' ? 'vertical max level (0-deg)' : 'vertical min level (0-deg)'"}}
          }
        },
        {"data": {"values": [{}]}, "mark": {"type": "rule", "clip": false, "color": "black", "strokeWidth": 2}, "encoding": {"x": {"datum": -24.9, "type": "quantitative"}, "y": {"datum": 146.2, "type": "quantitative"}, "x2": {"datum": 253.5}}},
        {"data": {"values": [{}]}, "mark": {"type": "rule", "clip": false, "color": "black", "strokeWidth": 2}, "encoding": {"x": {"datum": -24.9, "type": "quantitative"}, "y": {"datum": 146.2, "type": "quantitative"}, "y2": {"datum": 13.6}}}
      ]
    },
    {
      "width": 984, "height": 267,
      "title": {"text": "Band B5: 25MHz ~ 200MHz (vertical data at 2016-01-20@11-57-05)", "dx": -34},
      "layer": [
        {
          "data": {"name": "d"},
          "transform": [{"filter": "datum.p == 2"}, {"fold": ["max", "min"], "as": ["s", "v"]}],
          "mark": {"type": "line", "strokeWidth": 2},
          "encoding": {
            "x": {"field": "f", "type": "quantitative", "title": "Freq [ MHz ]", "scale": {"domain": [0, 250], "nice": false, "zero": false},
              "axis": {"values": [0,10,20,30,40,50,60,70,80,90,100,110,120,130,140,150,160,170,180,190,200,210,220,230,240,250], "tickCount": 100, "labelExpr": "datum.value % 50 === 0 ? datum.label : ''", "gridColor": {"condition": {"test": "datum.value % 50 === 0", "value": "#000000"}, "value": "#969696"}, "tickOpacity": {"condition": {"test": "datum.value % 50 === 0", "value": 1}, "value": 0}, "labelPadding": 7, "titleX": 500, "titleY": 17, "titleBaseline": "top"}},
            "y": {"field": "v", "type": "quantitative", "title": "Signal Level [dBuV/m/MHz]", "scale": {"domain": [30, 130], "nice": false, "zero": false},
              "axis": {"values": [30,32,34,36,38,40,42,44,46,48,50,52,54,56,58,60,62,64,66,68,70,72,74,76,78,80,82,84,86,88,90,92,94,96,98,100,102,104,106,108,110,112,114,116,118,120,122,124,126,128,130], "tickCount": 100, "labelExpr": "datum.value % 10 === 0 ? datum.label : ''", "gridColor": "#000000", "gridOpacity": {"condition": {"test": "datum.value % 10 === 0", "value": 1}, "value": 0.12}, "tickOpacity": {"condition": {"test": "datum.value % 10 === 0", "value": 1}, "value": 0}, "labelPadding": 10, "titlePadding": 15, "titleY": 143}},
            "color": {"field": "s", "type": "nominal", "scale": {"domain": ["max", "min"], "range": ["#8e0000", "#003b78"]},
              "legend": {"legendX": 617, "legendY": 16, "symbolOffset": 34, "labelExpr": "datum.value == 'max' ? 'vertical max level (peak at MAX-deg)' : 'vertical min level (peak at MAX-deg)'"}}
          }
        },
        {"data": {"values": [{}]}, "mark": {"type": "rule", "clip": false, "color": "black", "strokeWidth": 2}, "encoding": {"x": {"datum": -24.9, "type": "quantitative"}, "y": {"datum": 146.2, "type": "quantitative"}, "x2": {"datum": 253.5}}},
        {"data": {"values": [{}]}, "mark": {"type": "rule", "clip": false, "color": "black", "strokeWidth": 2}, "encoding": {"x": {"datum": -24.9, "type": "quantitative"}, "y": {"datum": 146.2, "type": "quantitative"}, "y2": {"datum": 13.6}}}
      ]
    },
    {
      "width": 984, "height": 267,
      "title": {"text": "Band B5: 25MHz ~ 200MHz (horizontal data at 2016-01-20@11-45-21)", "dx": -34},
      "layer": [
        {
          "data": {"name": "d"},
          "transform": [{"filter": "datum.p == 3"}, {"fold": ["max", "min"], "as": ["s", "v"]}],
          "mark": {"type": "line", "strokeWidth": 2},
          "encoding": {
            "x": {"field": "f", "type": "quantitative", "title": "Freq [ MHz ]", "scale": {"domain": [0, 250], "nice": false, "zero": false},
              "axis": {"values": [0,10,20,30,40,50,60,70,80,90,100,110,120,130,140,150,160,170,180,190,200,210,220,230,240,250], "tickCount": 100, "labelExpr": "datum.value % 50 === 0 ? datum.label : ''", "gridColor": {"condition": {"test": "datum.value % 50 === 0", "value": "#000000"}, "value": "#969696"}, "tickOpacity": {"condition": {"test": "datum.value % 50 === 0", "value": 1}, "value": 0}, "labelPadding": 7, "titleX": 500, "titleY": 17, "titleBaseline": "top"}},
            "y": {"field": "v", "type": "quantitative", "title": "Signal Level [dBuV/m/MHz]", "scale": {"domain": [30, 130], "nice": false, "zero": false},
              "axis": {"values": [30,32,34,36,38,40,42,44,46,48,50,52,54,56,58,60,62,64,66,68,70,72,74,76,78,80,82,84,86,88,90,92,94,96,98,100,102,104,106,108,110,112,114,116,118,120,122,124,126,128,130], "tickCount": 100, "labelExpr": "datum.value % 10 === 0 ? datum.label : ''", "gridColor": "#000000", "gridOpacity": {"condition": {"test": "datum.value % 10 === 0", "value": 1}, "value": 0.12}, "tickOpacity": {"condition": {"test": "datum.value % 10 === 0", "value": 1}, "value": 0}, "labelPadding": 10, "titlePadding": 15, "titleY": 143}},
            "color": {"field": "s", "type": "nominal", "scale": {"domain": ["max", "min"], "range": ["#8e0000", "#003b78"]},
              "legend": {"legendX": 32, "legendY": 19, "symbolOffset": 22, "labelExpr": "datum.value == 'max' ? 'horizontal max level (0-deg)' : 'horizontal min level (0-deg)'"}}
          }
        },
        {"data": {"values": [{}]}, "mark": {"type": "rule", "clip": false, "color": "black", "strokeWidth": 2}, "encoding": {"x": {"datum": -24.9, "type": "quantitative"}, "y": {"datum": 146.2, "type": "quantitative"}, "x2": {"datum": 253.5}}},
        {"data": {"values": [{}]}, "mark": {"type": "rule", "clip": false, "color": "black", "strokeWidth": 2}, "encoding": {"x": {"datum": -24.9, "type": "quantitative"}, "y": {"datum": 146.2, "type": "quantitative"}, "y2": {"datum": 13.6}}}
      ]
    },
    {
      "width": 984, "height": 267,
      "title": {"text": "Band B5: 25MHz ~ 200MHz (horizontal data at 2016-01-20@12-00-49)", "dx": -34},
      "layer": [
        {
          "data": {"name": "d"},
          "transform": [{"filter": "datum.p == 4"}, {"fold": ["max", "min"], "as": ["s", "v"]}],
          "mark": {"type": "line", "strokeWidth": 2},
          "encoding": {
            "x": {"field": "f", "type": "quantitative", "title": "Freq [ MHz ]", "scale": {"domain": [0, 250], "nice": false, "zero": false},
              "axis": {"values": [0,10,20,30,40,50,60,70,80,90,100,110,120,130,140,150,160,170,180,190,200,210,220,230,240,250], "tickCount": 100, "labelExpr": "datum.value % 50 === 0 ? datum.label : ''", "gridColor": {"condition": {"test": "datum.value % 50 === 0", "value": "#000000"}, "value": "#969696"}, "tickOpacity": {"condition": {"test": "datum.value % 50 === 0", "value": 1}, "value": 0}, "labelPadding": 7, "titleX": 500, "titleY": 17, "titleBaseline": "top"}},
            "y": {"field": "v", "type": "quantitative", "title": "Signal Level [dBuV/m/MHz]", "scale": {"domain": [30, 130], "nice": false, "zero": false},
              "axis": {"values": [30,32,34,36,38,40,42,44,46,48,50,52,54,56,58,60,62,64,66,68,70,72,74,76,78,80,82,84,86,88,90,92,94,96,98,100,102,104,106,108,110,112,114,116,118,120,122,124,126,128,130], "tickCount": 100, "labelExpr": "datum.value % 10 === 0 ? datum.label : ''", "gridColor": "#000000", "gridOpacity": {"condition": {"test": "datum.value % 10 === 0", "value": 1}, "value": 0.12}, "tickOpacity": {"condition": {"test": "datum.value % 10 === 0", "value": 1}, "value": 0}, "labelPadding": 10, "titlePadding": 15, "titleY": 143}},
            "color": {"field": "s", "type": "nominal", "scale": {"domain": ["max", "min"], "range": ["#8e0000", "#003b78"]},
              "legend": {"legendX": 15, "legendY": 7, "symbolOffset": 31, "labelExpr": "datum.value == 'max' ? 'horizontal max level (peak at MAX-deg)' : 'horizontal min level (peak at MAX-deg)'"}}
          }
        },
        {"data": {"values": [{}]}, "mark": {"type": "rule", "clip": false, "color": "black", "strokeWidth": 2}, "encoding": {"x": {"datum": -24.9, "type": "quantitative"}, "y": {"datum": 146.2, "type": "quantitative"}, "x2": {"datum": 253.5}}},
        {"data": {"values": [{}]}, "mark": {"type": "rule", "clip": false, "color": "black", "strokeWidth": 2}, "encoding": {"x": {"datum": -24.9, "type": "quantitative"}, "y": {"datum": 146.2, "type": "quantitative"}, "y2": {"datum": 18}}}
      ]
    }
  ]
}
